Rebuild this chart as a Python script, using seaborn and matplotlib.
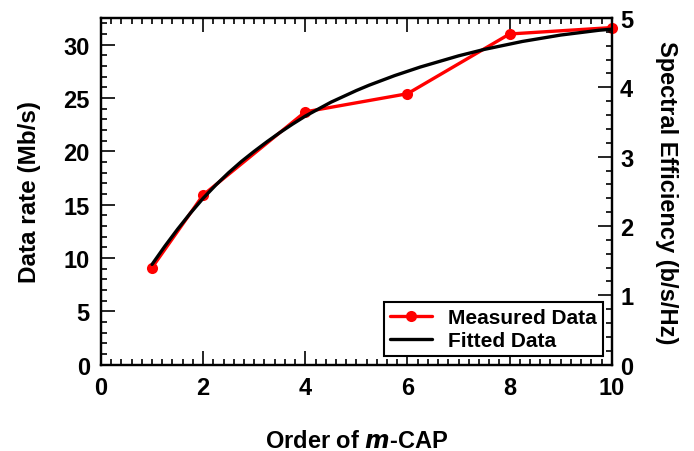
import numpy as np
import pandas as pd
import matplotlib
matplotlib.use("Agg")
import matplotlib.pyplot as plt
from matplotlib.ticker import MultipleLocator
import seaborn as sns

# --- data ---
order_measured = [1, 2, 4, 6, 8, 10]
rate_measured = [9.1, 15.9, 23.7, 25.4, 31.0, 31.6]

order_fit = [1.0, 1.25, 1.5, 1.75, 2.0, 2.25, 2.5, 2.75, 3.0, 3.25, 3.5, 3.75,
             4.0, 4.25, 4.5, 4.75, 5.0, 5.25, 5.5, 5.75, 6.0, 6.25, 6.5, 6.75,
             7.0, 7.25, 7.5, 7.75, 8.0, 8.25, 8.5, 8.75, 9.0, 9.25, 9.5, 9.75, 10.0]
rate_fit = [9.4, 11.1, 12.7, 14.2, 15.6, 16.85, 18.0, 19.05, 20.0, 20.9, 21.75, 22.55,
            23.3, 23.95, 24.6, 25.15, 25.7, 26.2, 26.65, 27.1, 27.5, 27.9, 28.25, 28.6,
            28.95, 29.25, 29.55, 29.8, 30.05, 30.3, 30.5, 30.7, 30.9, 31.05, 31.2, 31.35, 31.45]

sns.set_style("ticks")
plt.rcParams['font.family'] = ['Liberation Sans', 'DejaVu Sans']
plt.rcParams['font.weight'] = 'bold'
plt.rcParams['axes.labelweight'] = 'bold'
for k in ['text.color', 'axes.labelcolor', 'xtick.color', 'ytick.color', 'axes.edgecolor']:
    plt.rcParams[k] = 'black'

df_meas = pd.DataFrame({"order": order_measured, "rate": rate_measured})
df_fit = pd.DataFrame({"order": order_fit, "rate": rate_fit})

fig = plt.figure(figsize=(6.94, 4.52), dpi=100)
ax = fig.add_axes([0.1455, 0.191, 0.736, 0.767])

sns.lineplot(data=df_meas, x="order", y="rate", ax=ax, color="#ff0000",
             linewidth=2.4, marker="o", markersize=8, markeredgewidth=0,
             label="Measured Data", clip_on=False, zorder=3)
sns.lineplot(data=df_fit, x="order", y="rate", ax=ax, color="black",
             linewidth=2.4, label="Fitted Data", zorder=4)

ax.set_xlim(0, 10)
ax.set_ylim(0, 32.5)
ax.xaxis.set_major_locator(MultipleLocator(2))
ax.xaxis.set_minor_locator(MultipleLocator(0.2))
ax.yaxis.set_major_locator(MultipleLocator(5))
ax.yaxis.set_minor_locator(MultipleLocator(1))
ax.tick_params(which="both", direction="in", top=True, right=False, width=1.2,
               labelsize=17, colors="black")
ax.tick_params(which="major", length=10, pad=8)
ax.tick_params(which="minor", length=4.5)
for s in ax.spines.values():
    s.set_linewidth(1.6)

ax.set_xlabel("Order of $\\bfit{m}$-CAP", fontsize=17, labelpad=22)
ax.set_ylabel("Data rate (Mb/s)", fontsize=17.5, labelpad=16)

ax2 = ax.twinx()
ax2.set_ylim(0, 5)
ax2.yaxis.set_major_locator(MultipleLocator(1))
ax2.yaxis.set_minor_locator(MultipleLocator(0.2))
ax2.tick_params(which="both", direction="in", width=1.2, labelsize=17, colors="black")
ax2.tick_params(which="major", length=10, pad=6)
ax2.tick_params(which="minor", length=4.5)
for s in ax2.spines.values():
    s.set_linewidth(1.6)
ax2.set_ylabel("Spectral Efficiency (b/s/Hz)", fontsize=17, rotation=270,
               labelpad=32)
for lab in ax.get_xticklabels() + ax.get_yticklabels() + ax2.get_yticklabels():
    lab.set_fontweight("bold")

leg = ax.legend(loc="lower right", fontsize=15, frameon=True, fancybox=False,
                framealpha=1, edgecolor="black", borderaxespad=0.4,
                handlelength=2.0, borderpad=0.3, labelspacing=0.2)
leg.get_frame().set_linewidth(1.5)
for t in leg.get_texts():
    t.set_fontweight("bold")

fig.savefig("out.png", dpi=100)
